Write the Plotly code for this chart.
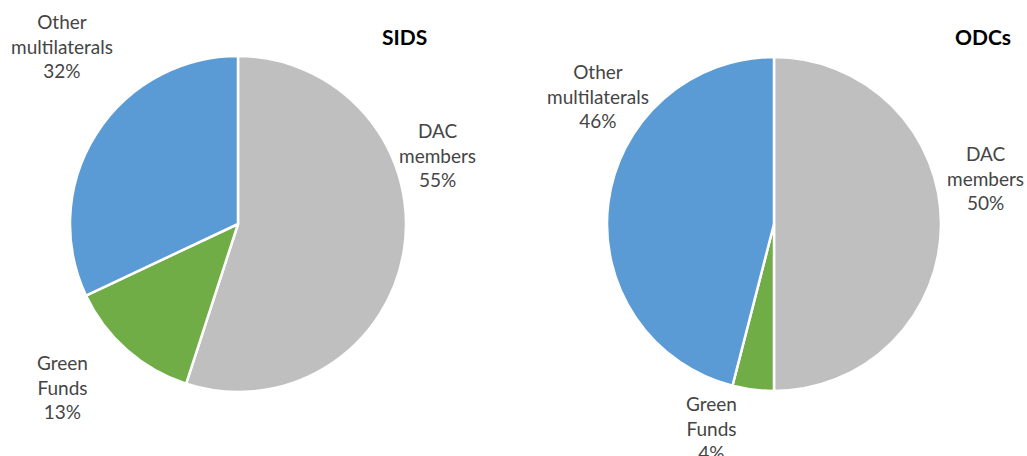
import plotly.graph_objects as go

categories = ["DAC members", "Green Funds", "Other multilaterals"]
label_lines = ["DAC<br>members", "Green<br>Funds", "Other<br>multilaterals"]
sids_values = [55, 13, 32]
odcs_values = [50, 4, 46]
colors = ["#BFBFBF", "#70AD47", "#5B9BD5"]
titles = ["SIDS", "ODCs"]

W, H = 1027, 456

def px_x(x):
    return x / W

def px_y(y):
    return 1 - y / H

fig = go.Figure()
domains = [
    dict(x=[70 / W, 406 / W], y=[px_y(392), px_y(56)]),
    dict(x=[607 / W, 941 / W], y=[px_y(391), px_y(57)]),
]
for vals, dom in zip([sids_values, odcs_values], domains):
    fig.add_trace(go.Pie(
        labels=categories, values=vals, sort=False, direction="clockwise",
        rotation=0, marker=dict(colors=colors, line=dict(color="white", width=2.5)),
        textinfo="none", domain=dom, showlegend=False, hoverinfo="label+percent",
    ))

# label positions (pixel centers) for each pie: DAC, Green, Other
label_pos = [
    [(437, 155), (62, 387), (62, 46)],
    [(985, 178), (711, 428), (598, 96)],
]
font = dict(family="Lato, Open Sans, sans-serif", size=19, color="#454545")
for vals, pos in zip([sids_values, odcs_values], label_pos):
    for lab, v, (x, y) in zip(label_lines, vals, pos):
        fig.add_annotation(x=px_x(x), y=px_y(y), xref="paper", yref="paper",
                           text=f"{lab}<br>{v}%", showarrow=False, font=font,
                           align="center", xanchor="center", yanchor="middle")

for t, (x, y) in zip(titles, [(404, 36), (983, 36)]):
    fig.add_annotation(x=px_x(x), y=px_y(y), xref="paper", yref="paper",
                       text=f"<b>{t}</b>", showarrow=False,
                       font=dict(family="Lato, Open Sans, sans-serif", size=21, color="black"),
                       xanchor="center", yanchor="middle")

fig.update_layout(width=W, height=H, margin=dict(l=0, r=0, t=0, b=0),
                  paper_bgcolor="white", plot_bgcolor="white")
fig.write_html("out.html", config={"displayModeBar": False},
               post_script="document.body.style.margin='0';")
